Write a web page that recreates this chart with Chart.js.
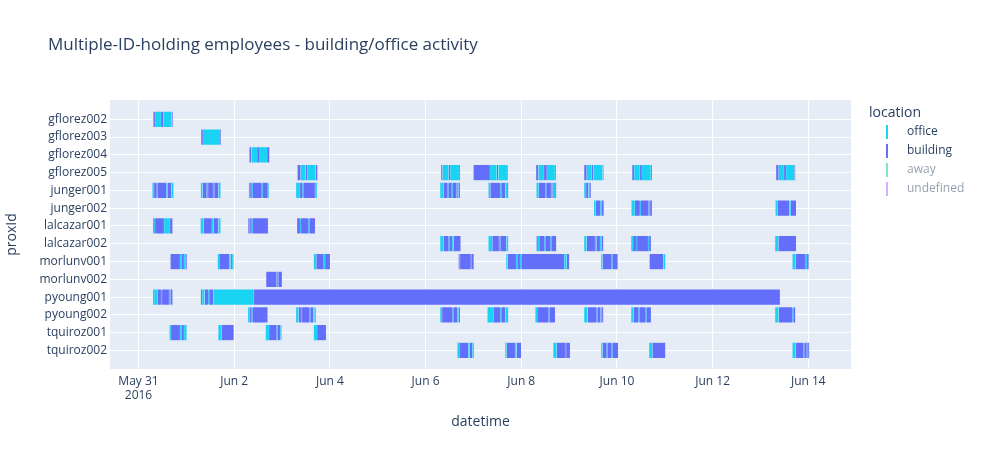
<!DOCTYPE html>
<html>
<head>
<meta charset="utf-8">
<script src="https://cdn.jsdelivr.net/npm/chart.js"></script>
<style>
  html, body { margin: 0; padding: 0; background: #fff; }
  #wrap { width: 983px; height: 450px; position: relative; }
</style>
</head>
<body>
<div id="wrap"><canvas id="chart"></canvas></div>
<script>
const employees = ["gflorez002","gflorez003","gflorez004","gflorez005","junger001","junger002",
  "lalcazar001","lalcazar002","morlunv001","morlunv002","pyoung001","pyoung002","tquiroz001","tquiroz002"];
const locations = ["office","building","away","undefined"];
const locationColors = ["#19d3f3","#636efa","#00cc96","#ab63fa"];
const xTickDays = ["05-31","06-02","06-04","06-06","06-08","06-10","06-12","06-14"];
const xTickLabels = [["May 31","2016"],"Jun 2","Jun 4","Jun 6","Jun 8","Jun 10","Jun 12","Jun 14"];

// [employee, day (2016), start hour, end hour]  -- end hour may run past midnight
const buildingSpans = [
  ["gflorez002","05-31",7.4,17.2],
  ["gflorez003","06-01",7.4,17.3],
  ["gflorez004","06-02",7.6,17.7],
  ["gflorez005","06-03",7.7,17.8],
  ["gflorez005","06-06",7.75,17.3],
  ["gflorez005","06-07",0.0,17.3],
  ["gflorez005","06-08",7.4,17.4],
  ["gflorez005","06-09",7.5,17.3],
  ["gflorez005","06-10",7.6,17.6],
  ["gflorez005","06-13",7.8,17.5],
  ["junger001","05-31",6.9,17.6],
  ["junger001","06-01",7.2,17.2],
  ["junger001","06-02",7.3,17.3],
  ["junger001","06-03",7.0,17.5],
  ["junger001","06-06",7.3,17.3],
  ["junger001","06-07",7.5,17.5],
  ["junger001","06-08",7.6,17.6],
  ["junger001","06-09",7.5,11.0],
  ["junger002","06-09",12.4,17.4],
  ["junger002","06-10",7.2,17.6],
  ["junger002","06-13",7.5,17.9],
  ["lalcazar001","05-31",7.3,17.1],
  ["lalcazar001","06-01",7.1,17.2],
  ["lalcazar001","06-02",7.0,17.0],
  ["lalcazar001","06-03",7.5,16.6],
  ["lalcazar002","06-06",7.3,17.6],
  ["lalcazar002","06-07",7.5,17.5],
  ["lalcazar002","06-08",7.6,17.6],
  ["lalcazar002","06-09",7.5,17.2],
  ["lalcazar002","06-10",7.1,17.1],
  ["lalcazar002","06-13",7.3,17.9],
  ["morlunv001","05-31",16.0,24.3],
  ["morlunv001","06-01",15.7,23.7],
  ["morlunv001","06-03",15.9,24.1],
  ["morlunv001","06-06",16.5,24.2],
  ["morlunv001","06-07",16.4,48.1],
  ["morlunv001","06-09",16.0,24.4],
  ["morlunv001","06-10",16.3,24.3],
  ["morlunv001","06-13",16.0,24.2],
  ["morlunv002","06-02",16.0,24.0],
  ["pyoung001","05-31",7.3,17.1],
  ["pyoung001","06-01",7.2,297.8],
  ["pyoung002","06-02",6.9,16.8],
  ["pyoung002","06-03",7.0,16.9],
  ["pyoung002","06-06",7.3,17.3],
  ["pyoung002","06-07",7.0,17.5],
  ["pyoung002","06-08",7.0,17.0],
  ["pyoung002","06-09",7.5,17.2],
  ["pyoung002","06-10",7.1,17.1],
  ["pyoung002","06-13",7.3,17.5],
  ["tquiroz001","05-31",15.5,24.2],
  ["tquiroz001","06-01",16.0,23.8],
  ["tquiroz001","06-02",15.8,23.8],
  ["tquiroz001","06-03",15.9,22.1],
  ["tquiroz002","06-06",15.9,24.3],
  ["tquiroz002","06-07",15.9,24.0],
  ["tquiroz002","06-08",16.0,24.5],
  ["tquiroz002","06-09",16.0,24.6],
  ["tquiroz002","06-10",16.1,24.3],
  ["tquiroz002","06-13",16.0,24.5]
];

const officeSpans = [
  ["gflorez002","05-31",8.3,11.3], ["gflorez002","05-31",12.5,16.7],
  ["gflorez003","06-01",8.3,16.5],
  ["gflorez004","06-02",8.6,11.5], ["gflorez004","06-02",12.8,16.5],
  ["gflorez005","06-03",9.3,11.8], ["gflorez005","06-03",12.8,16.8],
  ["gflorez005","06-06",8.5,11.5], ["gflorez005","06-06",12.3,16.8],
  ["gflorez005","06-07",8.3,11.7], ["gflorez005","06-07",12.5,16.9],
  ["gflorez005","06-08",8.6,11.4], ["gflorez005","06-08",12.8,16.9],
  ["gflorez005","06-09",8.8,11.2], ["gflorez005","06-09",12.2,16.8],
  ["gflorez005","06-10",8.6,11.5], ["gflorez005","06-10",12.5,17.0],
  ["gflorez005","06-13",9.1,11.8], ["gflorez005","06-13",12.8,17.0],
  ["junger001","05-31",6.9,7.8], ["junger001","05-31",9.1,9.6], ["junger001","05-31",14.0,14.6], ["junger001","05-31",16.5,17.6],
  ["junger001","06-01",7.2,8.2], ["junger001","06-01",10.2,10.9], ["junger001","06-01",13.4,14.0], ["junger001","06-01",16.1,17.2],
  ["junger001","06-02",7.3,8.0], ["junger001","06-02",8.8,9.3], ["junger001","06-02",13.8,14.3], ["junger001","06-02",16.8,17.3],
  ["junger001","06-03",7.0,9.0], ["junger001","06-03",10.2,10.7], ["junger001","06-03",16.5,17.5],
  ["junger001","06-06",7.3,9.0], ["junger001","06-06",11.0,11.5], ["junger001","06-06",13.1,13.6], ["junger001","06-06",15.6,16.5],
  ["junger001","06-07",7.5,8.5], ["junger001","06-07",13.5,14.0], ["junger001","06-07",16.0,16.9],
  ["junger001","06-08",7.6,8.8], ["junger001","06-08",12.1,12.6], ["junger001","06-08",14.9,15.6], ["junger001","06-08",16.3,17.0],
  ["junger001","06-09",7.5,8.5], ["junger001","06-09",9.7,10.5],
  ["junger002","06-09",12.4,13.4], ["junger002","06-09",15.6,16.2],
  ["junger002","06-10",7.2,9.0], ["junger002","06-10",11.5,12.0], ["junger002","06-10",15.9,16.6],
  ["junger002","06-13",7.5,8.5], ["junger002","06-13",14.5,15.2],
  ["lalcazar001","05-31",7.8,8.3], ["lalcazar001","05-31",12.8,15.8],
  ["lalcazar001","06-01",7.1,8.6], ["lalcazar001","06-01",12.8,13.6], ["lalcazar001","06-01",16.1,17.2],
  ["lalcazar001","06-02",7.5,8.0], ["lalcazar001","06-02",8.8,9.3],
  ["lalcazar001","06-03",9.0,9.5], ["lalcazar001","06-03",13.2,13.7],
  ["lalcazar002","06-06",7.3,9.0], ["lalcazar002","06-06",11.5,12.0], ["lalcazar002","06-06",13.3,14.0],
  ["lalcazar002","06-07",7.5,9.5], ["lalcazar002","06-07",12.8,13.5], ["lalcazar002","06-07",16.5,17.5],
  ["lalcazar002","06-08",8.3,9.0], ["lalcazar002","06-08",11.6,12.1], ["lalcazar002","06-08",14.6,15.1],
  ["lalcazar002","06-09",7.5,8.8], ["lalcazar002","06-09",13.0,13.7], ["lalcazar002","06-09",15.5,16.2],
  ["lalcazar002","06-10",7.1,8.1], ["lalcazar002","06-10",9.8,10.1], ["lalcazar002","06-10",15.6,16.1],
  ["lalcazar002","06-13",7.3,9.0],
  ["morlunv001","05-31",20.8,21.5], ["morlunv001","05-31",22.8,23.8],
  ["morlunv001","06-01",15.7,16.5], ["morlunv001","06-01",21.5,22.2], ["morlunv001","06-01",22.9,23.7],
  ["morlunv001","06-03",15.9,17.2], ["morlunv001","06-03",20.9,21.6],
  ["morlunv001","06-06",16.8,17.3], ["morlunv001","06-06",22.7,23.2],
  ["morlunv001","06-07",16.4,17.2], ["morlunv001","06-07",21.4,22.0], ["morlunv001","06-07",23.4,24.0], ["morlunv001","06-07",45.5,46.8],
  ["morlunv001","06-09",16.0,16.8], ["morlunv001","06-09",21.3,21.8],
  ["morlunv001","06-10",23.3,24.3],
  ["morlunv001","06-13",16.0,17.7], ["morlunv001","06-13",22.7,23.3],
  ["morlunv002","06-02",21.3,22.1],
  ["pyoung001","05-31",7.8,9.5], ["pyoung001","05-31",11.3,11.8], ["pyoung001","05-31",15.3,16.0],
  ["pyoung001","06-01",7.9,9.2], ["pyoung001","06-01",11.0,11.5], ["pyoung001","06-01",13.5,33.9],
  ["pyoung002","06-02",6.9,7.9], ["pyoung002","06-02",8.7,9.2],
  ["pyoung002","06-03",7.0,8.3], ["pyoung002","06-03",9.5,10.0], ["pyoung002","06-03",13.7,14.2], ["pyoung002","06-03",15.7,16.4],
  ["pyoung002","06-06",7.3,8.3], ["pyoung002","06-06",13.5,14.0], ["pyoung002","06-06",16.0,16.6],
  ["pyoung002","06-07",7.0,10.0], ["pyoung002","06-07",13.5,14.0], ["pyoung002","06-07",16.0,17.5],
  ["pyoung002","06-08",7.0,8.0], ["pyoung002","06-08",13.7,14.2],
  ["pyoung002","06-09",7.5,9.3], ["pyoung002","06-09",13.8,14.3], ["pyoung002","06-09",15.8,16.5],
  ["pyoung002","06-10",7.1,8.3], ["pyoung002","06-10",10.8,11.3], ["pyoung002","06-10",14.4,14.9],
  ["pyoung002","06-13",7.3,9.1], ["pyoung002","06-13",16.0,16.5],
  ["tquiroz001","05-31",15.5,16.3], ["tquiroz001","05-31",20.8,21.5], ["tquiroz001","05-31",22.8,24.2],
  ["tquiroz001","06-01",16.0,17.8],
  ["tquiroz001","06-02",15.8,17.5], ["tquiroz001","06-02",21.3,21.8], ["tquiroz001","06-02",23.1,23.8],
  ["tquiroz001","06-03",15.9,17.6],
  ["tquiroz002","06-06",15.9,16.9], ["tquiroz002","06-06",21.4,22.1], ["tquiroz002","06-06",23.4,24.3],
  ["tquiroz002","06-07",15.9,16.7], ["tquiroz002","06-07",20.9,21.7],
  ["tquiroz002","06-08",16.0,17.8], ["tquiroz002","06-08",22.0,22.5],
  ["tquiroz002","06-09",16.0,16.8], ["tquiroz002","06-09",18.8,19.3], ["tquiroz002","06-09",21.3,21.8],
  ["tquiroz002","06-10",16.1,17.8],
  ["tquiroz002","06-13",16.0,17.7], ["tquiroz002","06-13",21.5,22.0], ["tquiroz002","06-13",23.2,23.9]
];

const HOUR = 3600000;
function toMs(day, hour) {
  const [m, d] = day.split("-").map(Number);
  return Date.UTC(2016, m - 1, d) + hour * HOUR;
}
function toBar(s) {
  return { x: [toMs(s[1], s[2]), toMs(s[1], s[3])], y: employees.indexOf(s[0]) };
}

const textColor = "#2a3f5f";
const fontFamily = "'Open Sans', verdana, arial, sans-serif";

function barSet(i, data, hidden) {
  return {
    label: locations[i],
    data: data,
    hidden: hidden,
    backgroundColor: locationColors[i],
    borderColor: "#E5ECF6",
    borderWidth: 0.5,
    borderSkipped: false,
    grouped: false,
    barThickness: 15.6
  };
}

// plot background, title and plotly-style legend
const decor = {
  id: "decor",
  beforeDraw(chart) {
    const { ctx, chartArea: a } = chart;
    ctx.save();
    ctx.fillStyle = "#E5ECF6";
    ctx.fillRect(a.left, a.top, a.right - a.left, a.bottom - a.top);
    ctx.restore();
  },
  afterDraw(chart) {
    const ctx = chart.ctx;
    ctx.save();
    ctx.fillStyle = textColor;
    ctx.textBaseline = "middle";
    ctx.font = "17px " + fontFamily;
    ctx.fillText("Multiple-ID-holding employees - building/office activity", 48, 45);
    ctx.font = "14px " + fontFamily;
    ctx.fillText("location", 869, 113);
    ctx.font = "12px " + fontFamily;
    locations.forEach((name, i) => {
      const y = 132 + i * 19;
      const faded = chart.data.datasets[i].hidden;
      ctx.globalAlpha = faded ? 0.5 : 1;
      ctx.fillStyle = locationColors[i];
      ctx.fillRect(886, y - 7, 2, 14);
      ctx.fillStyle = textColor;
      ctx.fillText(name, 907, y);
    });
    ctx.restore();
  }
};

new Chart("chart", {
  type: "bar",
  data: {
    datasets: [
      barSet(0, officeSpans.map(toBar), false),
      barSet(1, buildingSpans.map(toBar), false),
      barSet(2, [], true),
      barSet(3, [], true)
    ]
  },
  options: {
    indexAxis: "y",
    responsive: true,
    maintainAspectRatio: false,
    animation: false,
    layout: { padding: { left: 0, top: 100, right: 132, bottom: 0 } },
    plugins: {
      legend: { display: false },
      tooltip: { enabled: false }
    },
    scales: {
      x: {
        type: "linear",
        position: "bottom",
        min: toMs("05-30", 9.7),
        max: toMs("06-14", 21.4),
        afterBuildTicks: s => { s.ticks = xTickDays.map(d => ({ value: toMs(d, 0) })); },
        afterFit: s => { s.height = 81; },
        grid: { color: "#ffffff", lineWidth: 1, drawTicks: false },
        border: { display: false },
        ticks: {
          color: textColor,
          font: { family: fontFamily, size: 12 },
          padding: 5,
          maxRotation: 0,
          autoSkip: false,
          callback: (v, i) => xTickLabels[i]
        },
        title: {
          display: true,
          text: "datetime",
          color: textColor,
          font: { family: fontFamily, size: 14 },
          padding: { top: 0, bottom: 19.6 }
        }
      },
      y: {
        type: "linear",
        reverse: true,
        offset: false,
        min: -1.084,
        max: 14.045,
        afterBuildTicks: s => { s.ticks = employees.map((e, i) => ({ value: i })); },
        afterFit: s => { s.width = 110; },
        grid: { color: "#ffffff", lineWidth: 1, drawTicks: false, offset: false },
        border: { display: false },
        ticks: {
          color: textColor,
          font: { family: fontFamily, size: 12 },
          padding: 3,
          autoSkip: false,
          callback: v => employees[v]
        },
        title: {
          display: true,
          text: "proxId",
          color: textColor,
          font: { family: fontFamily, size: 14 },
          padding: { top: 3.6, bottom: 0 }
        }
      }
    }
  },
  plugins: [decor]
});
</script>
</body>
</html>
